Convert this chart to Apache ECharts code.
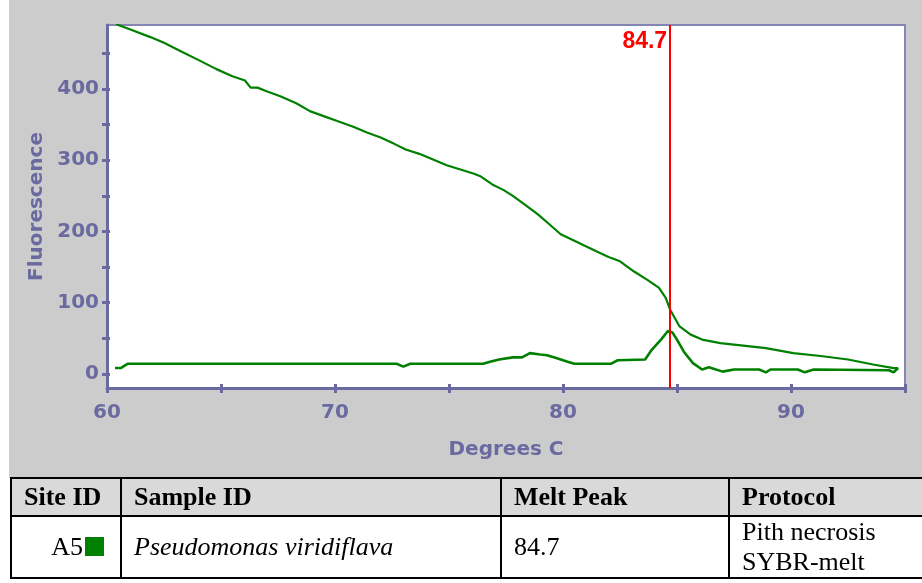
<!DOCTYPE html>
<html><head><meta charset="utf-8">
<script src="https://cdn.jsdelivr.net/npm/echarts@6/dist/echarts.min.js"></script>
<style>
html,body{margin:0;padding:0;background:#fff;width:922px;height:583px;overflow:hidden;position:relative;}
#chart{position:absolute;left:9px;top:0;width:913px;height:478px;}
#tbl{position:absolute;left:10px;top:477px;width:932px;border-collapse:collapse;table-layout:fixed;font-family:'Liberation Serif','Times New Roman',serif;font-size:26px;color:#000;}
#tbl td,#tbl th{border:2px solid #000;padding:0 12px;text-align:left;white-space:nowrap;overflow:hidden;}
#tbl th{background:#d9d9d9;height:36px;font-weight:bold;}
#tbl td{height:60px;line-height:30px;background:#fff;}
.sq{display:inline-block;width:19px;height:19px;background:#008000;vertical-align:-1px;margin-left:2px;}
</style></head>
<body>
<div id="chart"></div>
<table id="tbl"></table>
<script>
// ---- data ----
const meltTemps = [60.4,61.0,61.9,62.5,63.3,64.0,64.8,65.5,66.05,66.3,66.6,67.0,67.6,68.3,68.9,69.5,70.1,70.8,71.4,72.0,72.6,73.1,73.7,74.3,74.9,75.5,76.1,76.4,76.9,77.4,77.8,78.4,78.9,79.4,79.9,80.5,81.0,81.6,82.0,82.5,83.1,83.7,84.2,84.5,84.7,85.1,85.6,86.1,86.9,87.8,88.9,90.1,91.3,92.5,93.6,94.5,94.7];
const meltFluor = [491,484,473,465,452,441,428,418,412,402,402,397,390,380,369,362,355,347,339,332,323,315,309,301,293,287,281,277,266,258,250,236,224,210,196,187,179,170,164,158,144,132,121,107,90,67,55,48,43,40,36,29,25,20,13,8,8];
const derivTemps = [60.35,60.6,60.9,72.7,73.0,73.3,76.5,76.8,77.2,77.8,78.2,78.55,79.0,79.3,79.7,80.2,80.5,82.1,82.4,83.6,83.9,84.3,84.6,84.8,85.0,85.3,85.7,86.1,86.4,87.0,87.5,88.6,88.9,89.1,90.3,90.6,91.0,94.3,94.5,94.7];
const derivVals = [8,8,14,14,10,14,14,17,20,23,23,29,27,26,22,17,14,14,19,20,34,48,60,58,48,31,15,6,9,3,6,6,2,6,6,2,6,5,2,8];
const meltPeak = 84.7;
const xTickLabels = [60,70,80,90];
const yTickLabels = [0,100,200,300,400];
const yTickMarks = [0,50,100,150,200,250,300,350,400,450];
const tableHeaders = ['Site ID','Sample ID','Melt Peak','Protocol'];
const colWidths = [110,380,228,214];
const siteId = 'A5';
const sampleId = 'Pseudomonas viridiflava';
const peakText = '84.7';
const protocolLines = ['Pith necrosis','SYBR-melt'];

// ---- table ----
(function(){
  const t = document.getElementById('tbl');
  const cg = document.createElement('colgroup');
  colWidths.forEach(w=>{const c=document.createElement('col');c.style.width=w+'px';cg.appendChild(c);});
  t.appendChild(cg);
  const hr = document.createElement('tr');
  tableHeaders.forEach(h=>{const th=document.createElement('th');th.textContent=h;hr.appendChild(th);});
  t.appendChild(hr);
  const r = document.createElement('tr');
  const c1 = document.createElement('td'); c1.style.textAlign='right'; c1.style.paddingRight='16px';
  c1.appendChild(document.createTextNode(siteId));
  const sq = document.createElement('span'); sq.className='sq'; c1.appendChild(sq);
  const c2 = document.createElement('td'); const em=document.createElement('i'); em.textContent=sampleId; c2.appendChild(em);
  const c3 = document.createElement('td'); c3.textContent=peakText;
  const c4 = document.createElement('td');
  protocolLines.forEach((s,i)=>{ if(i) c4.appendChild(document.createElement('br')); c4.appendChild(document.createTextNode(s)); });
  [c1,c2,c3,c4].forEach(c=>r.appendChild(c));
  t.appendChild(r);
})();

// ---- chart ----
const axisColor = '#6a6aa0';
const labelFont = {color: axisColor, fontWeight:'bold', fontSize:20, fontFamily:'DejaVu Sans'};
const chart = echarts.init(document.getElementById('chart'), null, {renderer:'canvas'});
chart.setOption({
  animation:false,
  backgroundColor:'#cccccc',
  grid:{left:98, top:25, width:798, height:363, show:true, backgroundColor:'#ffffff', borderColor:'#8585b5', borderWidth:2, containLabel:false},
  xAxis:[{
    type:'value', min:60, max:95, interval:5,
    name:'Degrees C', nameLocation:'middle', nameGap:52,
    nameTextStyle: Object.assign({}, labelFont),
    axisLine:{show:true, onZero:false, lineStyle:{color:axisColor, width:3}},
    axisTick:{show:true, length:5, lineStyle:{color:axisColor, width:3}},
    axisLabel: Object.assign({customValues:xTickLabels, margin:15}, labelFont),
    splitLine:{show:false}
  },{
    type:'value', min:60, max:95, interval:5, position:'bottom',
    axisLine:{show:false, onZero:false}, axisLabel:{show:false}, splitLine:{show:false},
    axisTick:{show:true, inside:true, length:4, lineStyle:{color:axisColor, width:3}}
  }],
  yAxis:[{
    type:'value', min:-20, max:490,
    name:'Fluorescence', nameLocation:'middle', nameGap:55,
    nameTextStyle: Object.assign({}, labelFont),
    axisLine:{show:true, onZero:false, lineStyle:{color:axisColor, width:3}},
    axisTick:{show:true, length:5, customValues:yTickMarks, lineStyle:{color:axisColor, width:3}},
    axisLabel: Object.assign({customValues:yTickLabels, margin:8}, labelFont),
    splitLine:{show:false}
  },{
    type:'value', min:-20, max:490, position:'left',
    axisLine:{show:false, onZero:false}, axisLabel:{show:false}, splitLine:{show:false},
    axisTick:{show:true, inside:true, length:3, customValues:yTickMarks, lineStyle:{color:axisColor, width:3}}
  }],
  series:[
    {type:'line', data:meltTemps.map((x,i)=>[x,meltFluor[i]]), symbol:'none', smooth:false,
     lineStyle:{color:'#008000', width:2.2}, itemStyle:{color:'#008000'},
     markLine:{silent:true, symbol:'none', animation:false, label:{show:false},
       lineStyle:{color:'#ff0000', width:2, type:'solid'}, data:[{xAxis:meltPeak}]},
     markPoint:{silent:true, symbol:'circle', symbolSize:0,
       label:{show:true, position:'left', distance:3, color:'#ff0000', fontWeight:'bold', fontSize:23, fontFamily:'Liberation Sans', formatter:String(meltPeak)},
       data:[{coord:[meltPeak,466]}]}
    },
    {type:'line', data:derivTemps.map((x,i)=>[x,derivVals[i]]), symbol:'none', smooth:false,
     lineStyle:{color:'#008000', width:2.6}, itemStyle:{color:'#008000'}}
  ]
});
</script>
</body></html>
